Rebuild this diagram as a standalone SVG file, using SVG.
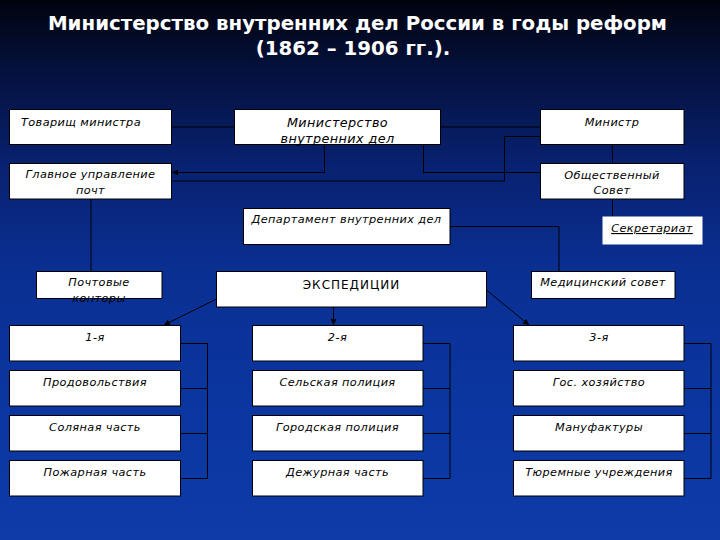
<svg xmlns="http://www.w3.org/2000/svg" width="720" height="540" viewBox="0 0 720 540">
<defs>
<linearGradient id="bg" x1="0" y1="0" x2="0" y2="1">
<stop offset="0" stop-color="#01030d"/>
<stop offset="0.12" stop-color="#04103a"/>
<stop offset="0.3" stop-color="#08216f"/>
<stop offset="0.5" stop-color="#0a2f92"/>
<stop offset="0.75" stop-color="#0b36a0"/>
<stop offset="1" stop-color="#0d3ba8"/>
</linearGradient>
<marker id="arr" viewBox="0 0 10 10" refX="10" refY="5" markerWidth="6" markerHeight="6" orient="auto" markerUnits="userSpaceOnUse">
<path d="M0,0 L10,5 L0,10 z" fill="#000"/>
</marker>
<style>
.box{fill:#fff;stroke:#000;stroke-width:1}
.t{font-family:"DejaVu Sans",sans-serif;font-style:italic;font-size:11.3px;letter-spacing:0.4px;fill:#000;text-anchor:middle}
.c{fill:none;stroke:#000;stroke-width:1}
.title{font-family:"DejaVu Sans",sans-serif;font-weight:bold;font-size:19.8px;fill:#fff;text-anchor:middle}
</style>
</defs>
<rect x="0" y="0" width="720" height="540" fill="url(#bg)"/>
<g id="title">
<text class="title" x="357.5" y="30">Министерство внутренних дел России в годы реформ</text>
<text class="title" x="353" y="55">(1862 – 1906 гг.).</text>
</g>
<g id="connectors">
<path class="c" d="M172,127 H234"/>
<path class="c" d="M441,127 H540"/>
<path class="c" d="M324.5,145 V172.5 H172" marker-end="url(#arr)"/>
<path class="c" d="M423.5,145 V172.5 H540"/>
<path class="c" d="M540,136.5 H504.5 V181 H172"/>
<path class="c" d="M612.5,145 V163"/>
<path class="c" d="M612.5,199 V216.5"/>
<path class="c" d="M450,226.5 H559 V271"/>
<path class="c" d="M91,199 V271"/>
<path class="c" d="M216.5,299 L164,325" marker-end="url(#arr)"/>
<path class="c" d="M333.5,307 V325" marker-end="url(#arr)"/>
<path class="c" d="M486.5,290 L529,325" marker-end="url(#arr)"/>
<path class="c" d="M180,343.5 H207.5 M180,388.5 H207.5 M180,433.5 H207.5 M180,478.5 H207.5 M207.5,343.5 V478.5"/>
<path class="c" d="M423,343.5 H450 M423,388.5 H450 M423,433.5 H450 M423,478.5 H450 M450,343.5 V478.5"/>
<path class="c" d="M684,343.5 H711 M684,388.5 H711 M684,433.5 H711 M684,478.5 H711 M711,343.5 V478.5"/>
</g>
<g id="n-tovarisch"><rect class="box" x="9.5" y="109.5" width="162" height="35"/><text class="t" x="81" y="125.5">Товарищ министра</text></g>
<g id="n-mvd"><rect class="box" x="234.5" y="109.5" width="206" height="35"/><text class="t" x="337.5" y="127" style="font-size:12.8px">Министерство</text><text class="t" x="337.5" y="143" style="font-size:12.8px">внутренних дел</text></g>
<g id="n-ministr"><rect class="box" x="540.5" y="109.5" width="143.5" height="35"/><text class="t" x="612" y="125.5">Министр</text></g>
<g id="n-pocht"><rect class="box" x="9.5" y="163.5" width="162" height="35.5"/><text class="t" x="90.5" y="178">Главное управление</text><text class="t" x="90.5" y="194">почт</text></g>
<g id="n-obsh"><rect class="box" x="540.5" y="163.5" width="143.5" height="35.5"/><text class="t" x="612" y="179">Общественный</text><text class="t" x="612" y="193.5">Совет</text></g>
<g id="n-sekr"><rect x="602.5" y="216.5" width="100" height="28" fill="#fff"/><text class="t" x="652" y="232" text-decoration="underline">Секретариат</text></g>
<g id="n-dep"><rect class="box" x="243.5" y="208.5" width="206.5" height="36"/><text class="t" x="346.5" y="223">Департамент внутренних дел</text></g>
<g id="n-pochtkont"><rect class="box" x="36.5" y="271.5" width="125.5" height="27"/><text class="t" x="99" y="285.5">Почтовые</text><text class="t" x="99" y="302">конторы</text></g>
<g id="n-exp"><rect class="box" x="216.5" y="271.5" width="270" height="35.5"/><text class="t" x="351.5" y="288.5" style="font-style:normal;font-size:12px;letter-spacing:1px">ЭКСПЕДИЦИИ</text></g>
<g id="n-med"><rect class="box" x="531.5" y="271.5" width="143.5" height="27"/><text class="t" x="603" y="286">Медицинский совет</text></g>
<g id="n-e1"><rect class="box" x="9.5" y="325.5" width="171" height="35.5"/><text class="t" x="95" y="341">1-я</text></g>
<g id="n-e1a"><rect class="box" x="9.5" y="370.5" width="171" height="35.5"/><text class="t" x="95" y="386">Продовольствия</text></g>
<g id="n-e1b"><rect class="box" x="9.5" y="415.5" width="171" height="35.5"/><text class="t" x="95" y="431">Соляная часть</text></g>
<g id="n-e1c"><rect class="box" x="9.5" y="460.5" width="171" height="35.5"/><text class="t" x="95" y="476">Пожарная часть</text></g>
<g id="n-e2"><rect class="box" x="252.5" y="325.5" width="170.5" height="35.5"/><text class="t" x="337.5" y="341">2-я</text></g>
<g id="n-e2a"><rect class="box" x="252.5" y="370.5" width="170.5" height="35.5"/><text class="t" x="337.5" y="386">Сельская полиция</text></g>
<g id="n-e2b"><rect class="box" x="252.5" y="415.5" width="170.5" height="35.5"/><text class="t" x="337.5" y="431">Городская полиция</text></g>
<g id="n-e2c"><rect class="box" x="252.5" y="460.5" width="170.5" height="35.5"/><text class="t" x="337.5" y="476">Дежурная часть</text></g>
<g id="n-e3"><rect class="box" x="513.5" y="325.5" width="170.5" height="35.5"/><text class="t" x="599" y="341">3-я</text></g>
<g id="n-e3a"><rect class="box" x="513.5" y="370.5" width="170.5" height="35.5"/><text class="t" x="599" y="386">Гос. хозяйство</text></g>
<g id="n-e3b"><rect class="box" x="513.5" y="415.5" width="170.5" height="35.5"/><text class="t" x="599" y="431">Мануфактуры</text></g>
<g id="n-e3c"><rect class="box" x="513.5" y="460.5" width="170.5" height="35.5"/><text class="t" x="599" y="476">Тюремные учреждения</text></g>
</svg>
